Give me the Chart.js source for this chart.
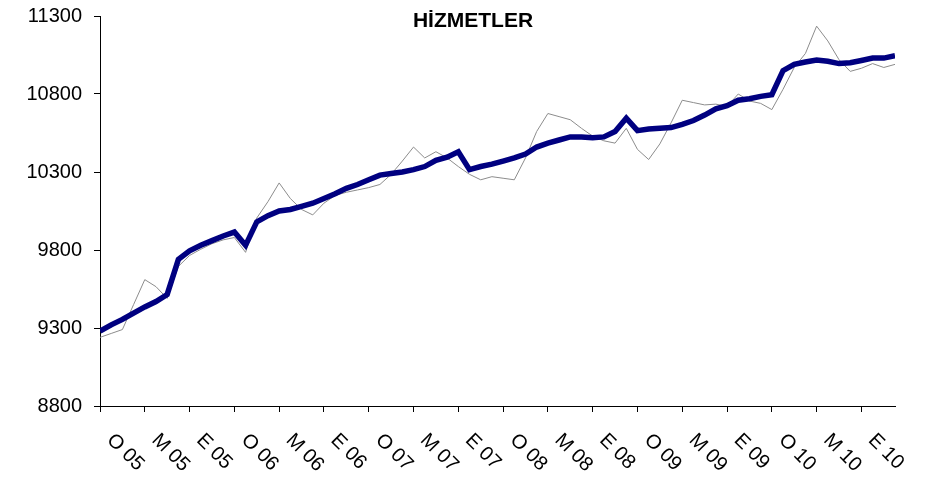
<!DOCTYPE html>
<html lang="tr">
<head>
<meta charset="utf-8">
<title>HİZMETLER</title>
<script src="https://cdn.jsdelivr.net/npm/chart.js@4.4.1/dist/chart.umd.min.js"></script>
<style>
  html, body { margin: 0; padding: 0; background: #fff; }
  #wrap { width: 930px; height: 480px; }
</style>
</head>
<body>
<div id="wrap"><canvas id="chart" width="930" height="480"></canvas></div>
<script>
// Monthly series, Jan 2005 - Dec 2010
const monthNames = ['Oca', 'Şub', 'Mar', 'Nis', 'May', 'Haz', 'Tem', 'Ağu', 'Eyl', 'Eki', 'Kas', 'Ara'];
const years = ['05', '06', '07', '08', '09', '10'];
const months = years.flatMap(y => monthNames.map(m => m + ' ' + y));

// thin grey line (raw)
const rawValues = [
  9240, 9265, 9290, 9450, 9610, 9565, 9490, 9695, 9765, 9805, 9840, 9865,
  9880, 9785, 10005, 10110, 10230, 10130, 10060, 10025, 10100, 10150, 10170, 10185,
  10200, 10220, 10285, 10370, 10460, 10390, 10430, 10390, 10335, 10285, 10250, 10270,
  10260, 10250, 10390, 10560, 10675, 10655, 10635, 10580, 10530, 10500, 10485, 10580,
  10445, 10380, 10480, 10615, 10760, 10745, 10730, 10735, 10720, 10800, 10755, 10740,
  10700, 10830, 10970, 11060, 11235, 11140, 11020, 10945, 10965, 10995, 10970, 10990
];

// thick navy line (trend)
const trendValues = [
  9280, 9320, 9355, 9395, 9435, 9470, 9515, 9740, 9795, 9830, 9860, 9890,
  9915, 9830, 9980, 10020, 10050, 10060, 10080, 10100, 10130, 10160, 10195, 10220,
  10250, 10280, 10290, 10300, 10315, 10335, 10375, 10395, 10430, 10315, 10335, 10350,
  10370, 10390, 10415, 10460, 10485, 10505, 10525, 10525, 10520, 10525, 10560, 10645,
  10565, 10575, 10580, 10585, 10605, 10630, 10665, 10705, 10725, 10760, 10770, 10785,
  10795, 10950, 10990, 11005, 11018, 11010, 10995, 11000, 11015, 11030, 11030, 11045
];

// one label every 4 months
const tickLabels = [
  'O 05', 'M 05', 'E 05', 'O 06', 'M 06', 'E 06', 'O 07', 'M 07', 'E 07',
  'O 08', 'M 08', 'E 08', 'O 09', 'M 09', 'E 09', 'O 10', 'M 10', 'E 10'
];

const FONT = '"Liberation Sans", Arial, sans-serif';

const toPoints = values => values.map((v, i) => ({ x: i, y: v }));

// Title drawn over the plot, like the original
const titlePlugin = {
  id: 'overTitle',
  afterDraw(chart) {
    const ctx = chart.ctx;
    ctx.save();
    ctx.font = 'bold 21px ' + FONT;
    ctx.fillStyle = '#000';
    ctx.textAlign = 'center';
    ctx.textBaseline = 'middle';
    ctx.fillText('HİZMETLER', 473, 21);
    ctx.restore();
  }
};

// Rotated labels going down-right from each tick
const xLabelsPlugin = {
  id: 'xLabels',
  afterDraw(chart) {
    const { ctx, scales: { x } } = chart;
    ctx.save();
    ctx.font = '20px ' + FONT;
    ctx.fillStyle = '#000';
    ctx.textAlign = 'left';
    ctx.textBaseline = 'middle';
    x.ticks.forEach((tick, i) => {
      const px = x.getPixelForValue(tick.value);
      ctx.save();
      ctx.translate(px + 10, x.top + 31);
      ctx.rotate(Math.PI / 4);
      ctx.fillText(tickLabels[i] || '', 0, 0);
      ctx.restore();
    });
    ctx.restore();
  }
};

new Chart(document.getElementById('chart'), {
  type: 'line',
  data: {
    datasets: [
      {
        label: 'Trend',
        data: toPoints(trendValues),
        borderColor: '#000080',
        borderWidth: 5.5,
        pointRadius: 0,
        tension: 0,
        fill: false
      },
      {
        label: 'Hizmetler',
        data: toPoints(rawValues),
        borderColor: '#8c8c8c',
        borderWidth: 1,
        pointRadius: 0,
        tension: 0,
        fill: false
      }
    ]
  },
  options: {
    responsive: false,
    animation: false,
    layout: {
      padding: { top: 16, right: 35, left: 0, bottom: 0 }
    },
    plugins: {
      legend: { display: false },
      title: { display: false },
      tooltip: { enabled: false }
    },
    scales: {
      x: {
        type: 'linear',
        min: 0,
        max: months.length - 1,
        border: { color: '#000', width: 1 },
        grid: {
          drawOnChartArea: false,
          drawTicks: true,
          tickLength: 6,
          color: '#000'
        },
        ticks: {
          display: false,
          stepSize: 4,
          autoSkip: false,
          includeBounds: false
        },
        afterFit: scale => { scale.height = 74; }
      },
      y: {
        min: 8800,
        max: 11300,
        border: { color: '#000', width: 1 },
        grid: {
          drawOnChartArea: false,
          drawTicks: true,
          tickLength: 6,
          color: '#000'
        },
        ticks: {
          stepSize: 500,
          padding: 12,
          color: '#000',
          font: { family: FONT, size: 20 },
          callback: value => String(value)
        },
        afterFit: scale => {
          scale.width = 100;
          // let the top label overflow into the layout padding
          scale.paddingTop = 0;
          scale.paddingBottom = 0;
        }
      }
    }
  },
  plugins: [titlePlugin, xLabelsPlugin]
});
</script>
</body>
</html>
